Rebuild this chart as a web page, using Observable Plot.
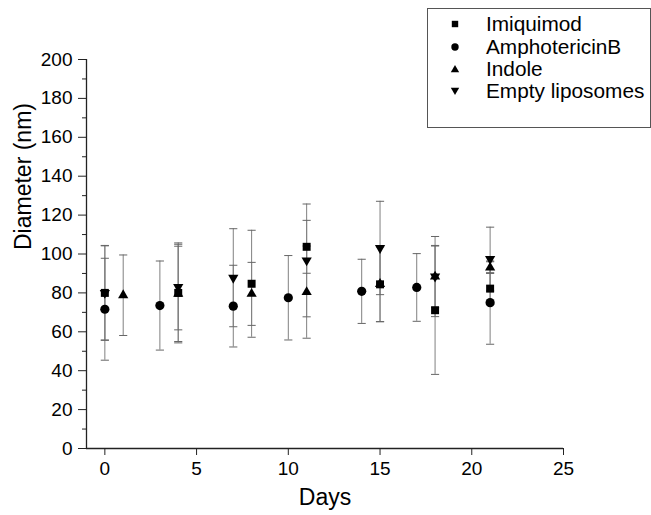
<!DOCTYPE html>
<html>
<head>
<meta charset="utf-8">
<script src="https://cdn.jsdelivr.net/npm/d3@7"></script>
<script src="https://cdn.jsdelivr.net/npm/@observablehq/plot@0.6"></script>
<style>
  html, body { margin: 0; padding: 0; background: white; }
  #wrap { position: relative; width: 651px; height: 515px; font-family: "Liberation Sans", Arial, sans-serif; }
  #legend { position: absolute; left: 427px; top: 8px; width: 224px; height: 120px; box-sizing: border-box;
            border: 1px solid #555; background: white; }
  .lrow { position: absolute; left: 0; height: 22px; display: flex; align-items: center; font-size: 20.8px; color: #000; white-space: nowrap; }
  .lrow svg { width: 14px; height: 14px; margin-left: 20px; margin-right: 24px; }
</style>
</head>
<body>
<div id="wrap"></div>
<script>
// ---- Data ----
const seriesNames = ["Imiquimod", "AmphotericinB", "Indole", "Empty liposomes"];

const daysImiquimod = [0, 4, 8, 11, 15, 18, 21];
const meanImiquimod = [80, 80, 84.7, 103.7, 84.4, 71.1, 82.2];
const errImiquimod  = [24.2, 25.7, 27.5, 13.6, 19.2, 33, 8.2];

const daysAmphoB = [0, 3, 7, 10, 14, 17, 21];
const meanAmphoB = [71.6, 73.5, 73.2, 77.5, 80.8, 82.8, 75];
const errAmphoB  = [26.2, 22.9, 21, 21.7, 16.5, 17.4, 21.4];

const daysIndole = [1, 4, 8, 11, 15, 18, 21];
const meanIndole = [78.8, 79.5, 79.5, 80.4, 84.6, 88.4, 93];
const errIndole  = [20.7, 24.5, 16.2, 23.7, 19.4, 20.6, 3];

const daysEmpty = [0, 4, 7, 11, 15, 18, 21];
const meanEmpty = [80, 83, 87.8, 96.7, 103.1, 88.4, 97.4];
const errEmpty  = [24.4, 22, 25.2, 29, 24, 16, 16.4];

const xTicks = [0, 5, 10, 15, 20, 25];
const yTicks = [0, 20, 40, 60, 80, 100, 120, 140, 160, 180, 200];
const yMinorTicks = [10, 30, 50, 70, 90, 110, 130, 150, 170, 190];

// ---- Build table ----
function rowsOf(name, days, mean, err) {
  return days.map((d, i) => ({series: name, day: d, mean: mean[i], lo: mean[i] - err[i], hi: mean[i] + err[i]}));
}
const rowsImi = rowsOf(seriesNames[0], daysImiquimod, meanImiquimod, errImiquimod);
const rowsAmb = rowsOf(seriesNames[1], daysAmphoB, meanAmphoB, errAmphoB);
const rowsInd = rowsOf(seriesNames[2], daysIndole, meanIndole, errIndole);
const rowsEmp = rowsOf(seriesNames[3], daysEmpty, meanEmpty, errEmpty);
const allRows = [...rowsImi, ...rowsAmb, ...rowsInd, ...rowsEmp];

// horizontal cap symbol for error bars
const capSymbol = {
  draw(ctx, size) {
    const w = Math.sqrt(size);
    ctx.moveTo(-w / 2, 0);
    ctx.lineTo(w / 2, 0);
  }
};

const barColor = "#808080";
const font = "\"Liberation Sans\", Arial, sans-serif";

const chart = Plot.plot({
  width: 651,
  height: 515,
  marginLeft: 86,
  marginRight: 88,
  marginTop: 59,
  marginBottom: 67,
  style: {fontFamily: font, fontSize: "19px", color: "#000", background: "white", overflow: "visible"},
  x: {domain: [-1, 25]},
  y: {domain: [0, 200]},
  marks: [
    // error bars
    Plot.ruleX(allRows, {x: "day", y1: "lo", y2: "hi", stroke: barColor, strokeWidth: 1}),
    Plot.dot(allRows, {x: "day", y: "lo", symbol: capSymbol, r: 4.6, fill: "none", stroke: "#666", strokeWidth: 1}),
    Plot.dot(allRows, {x: "day", y: "hi", symbol: capSymbol, r: 4.6, fill: "none", stroke: "#666", strokeWidth: 1}),
    // markers
    Plot.dot(rowsImi, {x: "day", y: "mean", symbol: "square", r: 4.5, fill: "#000", stroke: "none"}),
    Plot.dot(rowsAmb, {x: "day", y: "mean", symbol: "circle", r: 4.6, fill: "#000", stroke: "none"}),
    Plot.dot(rowsInd, {x: "day", y: "mean", symbol: "triangle", r: 3.8, fill: "#000", stroke: "none"}),
    Plot.dot(rowsEmp, {x: "day", y: "mean", symbol: "triangle", rotate: 180, r: 3.8, fill: "#000", stroke: "none"}),
    // axes
    Plot.ruleX([-1], {stroke: "#222", strokeWidth: 1.3}),
    Plot.ruleY([0], {stroke: "#222", strokeWidth: 1.3}),
    Plot.axisY({ticks: yTicks, tickSize: 8, tickPadding: 6, fontSize: 19, label: null, stroke: "#222"}),
    Plot.axisY({ticks: yMinorTicks, tickSize: 4, tickFormat: () => "", label: null, stroke: "#222"}),
    Plot.axisX({ticks: xTicks, tickSize: 7, tickPadding: 6, fontSize: 19, label: null, stroke: "#222"}),
    // axis titles
    Plot.text(["Diameter (nm)"], {frameAnchor: "left", dx: -63, dy: -4, rotate: -90, fontSize: 23, fill: "#000"}),
    Plot.text(["Days"], {frameAnchor: "bottom", dy: 56, fontSize: 23, fill: "#000"})
  ]
});

const wrap = document.getElementById("wrap");
wrap.appendChild(chart);

// ---- legend (overlay box) ----
const legend = document.createElement("div");
legend.id = "legend";
const symbolSvgs = [
  '<svg viewBox="-7 -7 14 14"><rect x="-3.2" y="-3.2" width="6.4" height="6.4" fill="#000"/></svg>',
  '<svg viewBox="-7 -7 14 14"><circle r="3.7" fill="#000"/></svg>',
  '<svg viewBox="-7 -7 14 14"><path d="M0,-4 L4.2,3.3 L-4.2,3.3 Z" fill="#000"/></svg>',
  '<svg viewBox="-7 -7 14 14"><path d="M0,4 L4.2,-3.3 L-4.2,-3.3 Z" fill="#000"/></svg>'
];
const rowCenters = [15, 37.5, 59.5, 81.5];
seriesNames.forEach((name, i) => {
  const row = document.createElement("div");
  row.className = "lrow";
  row.style.top = (rowCenters[i] - 11) + "px";
  row.innerHTML = symbolSvgs[i] + "<span>" + name + "</span>";
  legend.appendChild(row);
});
wrap.appendChild(legend);
</script>
</body>
</html>
